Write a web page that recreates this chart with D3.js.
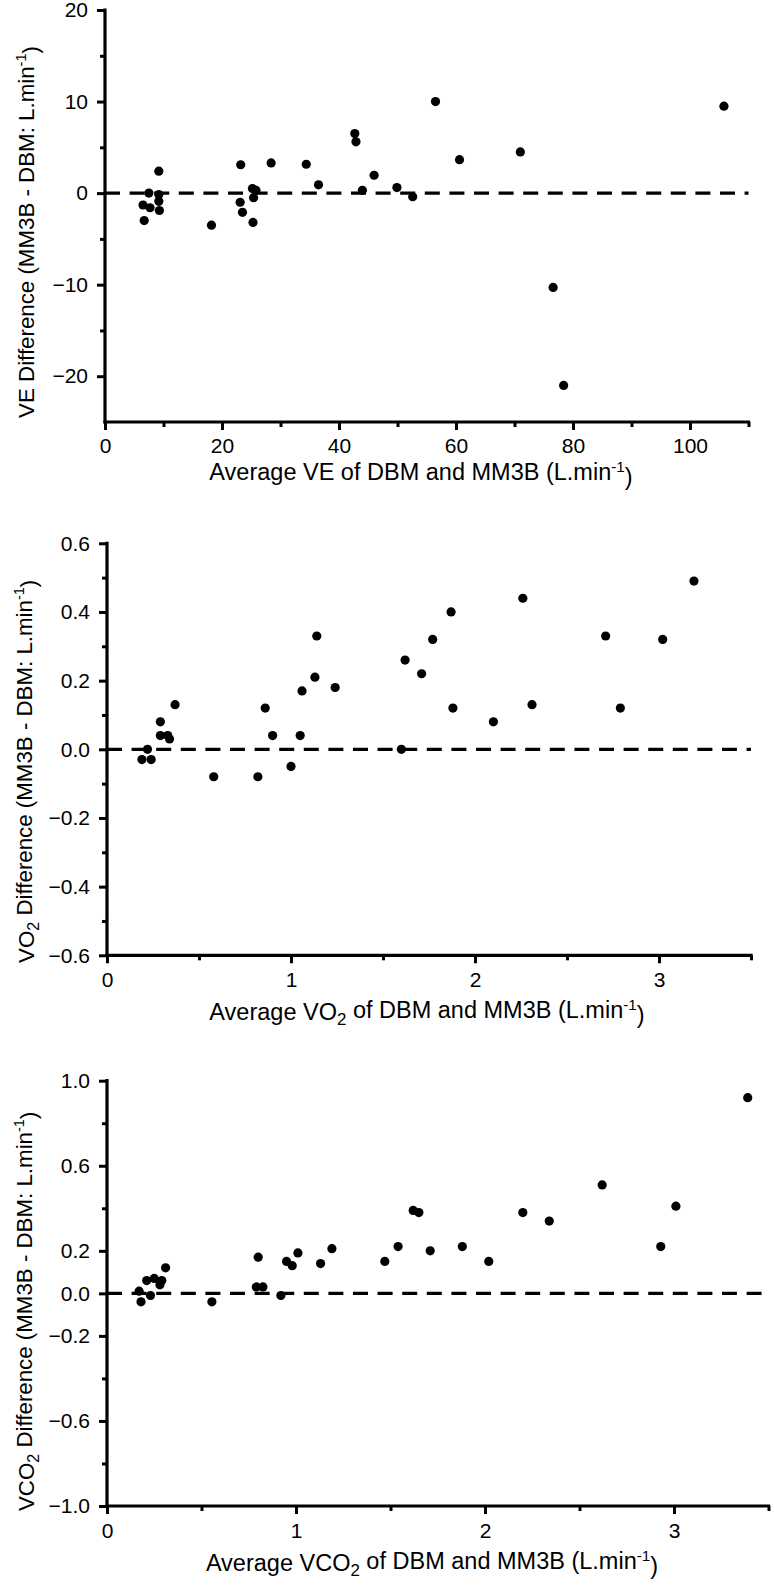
<!DOCTYPE html>
<html>
<head>
<meta charset="utf-8">
<script src="https://cdn.jsdelivr.net/npm/d3@7"></script>
<style>
  html, body { margin: 0; padding: 0; background: #fff; }
  svg { display: block; }
  text { font-family: "Liberation Sans", Arial, Helvetica, sans-serif; fill: #000; }
</style>
</head>
<body>
<svg id="chart" width="774" height="1586"></svg>
<script>
// ---------- DATA ----------
// Panel 1: VE
const veAvg  = [6.7, 6.5, 7.7, 7.5, 9.2, 9.2, 9.2, 9.3, 18.2, 23.2, 23.1, 23.5, 25.2, 25.8, 25.4, 25.3, 28.4, 34.4, 36.5, 42.7, 42.9, 44.0, 46.0, 49.9, 52.6, 56.5, 60.6, 71.0, 76.6, 78.4, 105.8];
const veDiff = [-3.0, -1.3, -1.6, 0.0, 2.4, -0.15, -0.9, -1.9, -3.5, 3.1, -1.0, -2.1, 0.5, 0.3, -0.5, -3.2, 3.3, 3.15, 0.9, 6.5, 5.6, 0.3, 1.95, 0.6, -0.4, 10.0, 3.65, 4.5, -10.3, -21.0, 9.5];
const veYMajor = [20, 10, 0, -10, -20];
const veYMinor = [15, 5, -5, -15];
const veXMajor = [0, 20, 40, 60, 80, 100];
const veXMinor = [10, 30, 50, 70, 90, 110];

// Panel 2: VO2
const vo2Avg  = [0.19, 0.24, 0.22, 0.29, 0.29, 0.33, 0.34, 0.37, 0.58, 0.82, 0.86, 0.90, 1.00, 1.05, 1.06, 1.13, 1.14, 1.24, 1.60, 1.62, 1.71, 1.77, 1.87, 1.88, 2.10, 2.26, 2.31, 2.71, 2.79, 3.02, 3.19];
const vo2Diff = [-0.03, -0.03, 0.0, 0.08, 0.04, 0.04, 0.03, 0.13, -0.08, -0.08, 0.12, 0.04, -0.05, 0.04, 0.17, 0.21, 0.33, 0.18, 0.0, 0.26, 0.22, 0.32, 0.40, 0.12, 0.08, 0.44, 0.13, 0.33, 0.12, 0.32, 0.49];
const vo2YMajor = [0.6, 0.4, 0.2, 0.0, -0.2, -0.4, -0.6];
const vo2YMinor = [0.5, 0.3, 0.1, -0.1, -0.3, -0.5];
const vo2XMajor = [0, 1, 2, 3];
const vo2XMinor = [0.5, 1.5, 2.5, 3.5];

// Panel 3: VCO2
const vco2Avg  = [0.17, 0.18, 0.21, 0.23, 0.25, 0.29, 0.28, 0.31, 0.555, 0.80, 0.79, 0.825, 0.92, 0.95, 0.98, 1.01, 1.13, 1.19, 1.47, 1.54, 1.62, 1.65, 1.71, 1.88, 2.02, 2.20, 2.34, 2.62, 2.93, 3.01, 3.39];
const vco2Diff = [0.01, -0.04, 0.06, -0.01, 0.07, 0.06, 0.04, 0.12, -0.04, 0.17, 0.03, 0.03, -0.01, 0.15, 0.13, 0.19, 0.14, 0.21, 0.15, 0.22, 0.39, 0.38, 0.20, 0.22, 0.15, 0.38, 0.34, 0.51, 0.22, 0.41, 0.92];
const vco2YMajor = [1.0, 0.6, 0.2, 0.0, -0.2, -0.6, -1.0];
const vco2YMinor = [0.8, 0.4, -0.4, -0.8];
const vco2XMajor = [0, 1, 2, 3];
const vco2XMinor = [0.5, 1.5, 2.5, 3.5];

// ---------- DRAWING ----------
const svg = d3.select("#chart");
const minus = s => s.replace("-", "\u2212");
const FONT = "Liberation Sans, Arial, sans-serif";

function panel(cfg) {
  const g = svg.append("g");
  const x = d3.scaleLinear().domain(cfg.xDomain).range([cfg.left, cfg.right]);
  const y = d3.scaleLinear().domain(cfg.yDomain).range([cfg.bottom, cfg.top]);

  // minor y ticks
  g.append("g").attr("transform", `translate(${cfg.left},0)`)
    .call(d3.axisLeft(y).tickValues(cfg.yMinor).tickSize(5).tickSizeOuter(0).tickFormat(""))
    .call(a => a.select(".domain").remove())
    .call(a => a.selectAll("line").attr("stroke", "#000").attr("stroke-width", 3));
  // major y ticks
  g.append("g").attr("transform", `translate(${cfg.left},0)`)
    .call(d3.axisLeft(y).tickValues(cfg.yMajor).tickSize(8).tickSizeOuter(0).tickPadding(9)
      .tickFormat(d => minus(d3.format(cfg.yFmt)(d))))
    .call(a => a.select(".domain").remove())
    .call(a => a.selectAll("line").attr("stroke", "#000").attr("stroke-width", 3))
    .call(a => a.selectAll("text").attr("font-size", 21).attr("font-family", FONT).attr("fill", "#000"));
  // minor x ticks
  g.append("g").attr("transform", `translate(0,${cfg.bottom})`)
    .call(d3.axisBottom(x).tickValues(cfg.xMinor).tickSize(5).tickSizeOuter(0).tickFormat(""))
    .call(a => a.select(".domain").remove())
    .call(a => a.selectAll("line").attr("stroke", "#000").attr("stroke-width", 3));
  // major x ticks
  g.append("g").attr("transform", `translate(0,${cfg.bottom})`)
    .call(d3.axisBottom(x).tickValues(cfg.xMajor).tickSize(8).tickSizeOuter(0).tickPadding(cfg.xPad)
      .tickFormat(d3.format("d")))
    .call(a => a.select(".domain").remove())
    .call(a => a.selectAll("line").attr("stroke", "#000").attr("stroke-width", 3))
    .call(a => a.selectAll("text").attr("font-size", 21).attr("font-family", FONT).attr("fill", "#000"));

  // axis lines
  g.append("line").attr("x1", cfg.left).attr("x2", cfg.left)
    .attr("y1", y(cfg.yDomain[1])).attr("y2", y(cfg.yDomain[0]))
    .attr("stroke", "#000").attr("stroke-width", 3.2).attr("stroke-linecap", "square");
  g.append("line").attr("x1", x(cfg.xDomain[0])).attr("x2", x(cfg.xDomain[1]))
    .attr("y1", cfg.bottom).attr("y2", cfg.bottom)
    .attr("stroke", "#000").attr("stroke-width", 3.2).attr("stroke-linecap", "square");

  // zero dashed line
  g.append("line").attr("x1", x(cfg.xDomain[0])).attr("x2", x(cfg.xDomain[1]))
    .attr("y1", y(0)).attr("y2", y(0))
    .attr("stroke", "#000").attr("stroke-width", 3.2).attr("stroke-dasharray", "15,9.6");

  // points
  g.append("g").selectAll("circle")
    .data(cfg.xs.map((v, i) => [v, cfg.ys[i]]))
    .join("circle")
    .attr("cx", d => x(d[0])).attr("cy", d => y(d[1]))
    .attr("r", 4.6).attr("fill", "#000");

  // y title
  const cy = (cfg.top + cfg.bottom) / 2 + cfg.yTitleShift;
  const yt = g.append("text")
    .attr("transform", `translate(34,${cy}) rotate(-90)`)
    .attr("text-anchor", "middle").attr("font-size", 22.3);
  cfg.yTitle(yt);

  // x title
  const xt = g.append("text")
    .attr("x", cfg.xTitleX)
    .attr("y", cfg.bottom + cfg.xTitleOff)
    .attr("text-anchor", "middle").attr("font-size", 23.5);
  cfg.xTitle(xt);
}

function sup(t) {
  t.append("tspan").text("L.min");
  t.append("tspan").attr("font-size", "0.65em").attr("dy", "-0.55em").text("-1");
  t.append("tspan").attr("dy", "0.55em").text(")");
}
function sub2(t, before, after) {
  t.append("tspan").text(before);
  t.append("tspan").attr("font-size", "0.72em").attr("dy", "0.3em").text("2");
  t.append("tspan").attr("dy", "-0.3em").text(after);
}

panel({
  left: 105, right: 748.5, top: 10, bottom: 422,
  xDomain: [0, 110], yDomain: [-25, 20],
  xs: veAvg, ys: veDiff,
  yMajor: veYMajor, yMinor: veYMinor, xMajor: veXMajor, xMinor: veXMinor,
  yFmt: "d", xPad: 8, xTitleOff: 58, xTitleX: 421, yTitleShift: 16,
  yTitle: t => { t.append("tspan").text("VE Difference (MM3B - DBM: "); sup(t); },
  xTitle: t => { t.append("tspan").text("Average VE of DBM and MM3B ("); sup(t); }
});

panel({
  left: 107, right: 751, top: 543.3, bottom: 955.3,
  xDomain: [0, 3.5], yDomain: [-0.6, 0.6],
  xs: vo2Avg, ys: vo2Diff,
  yMajor: vo2YMajor, yMinor: vo2YMinor, xMajor: vo2XMajor, xMinor: vo2XMinor,
  yFmt: ".1f", xPad: 9, xTitleOff: 65, xTitleX: 427, yTitleShift: 22,
  yTitle: t => { sub2(t, "VO", " Difference (MM3B - DBM: "); sup(t); },
  xTitle: t => { sub2(t, "Average VO", " of DBM and MM3B ("); sup(t); }
});

panel({
  left: 107, right: 768.5, top: 1080.7, bottom: 1506,
  xDomain: [0, 3.5], yDomain: [-1, 1],
  xs: vco2Avg, ys: vco2Diff,
  yMajor: vco2YMajor, yMinor: vco2YMinor, xMajor: vco2XMajor, xMinor: vco2XMinor,
  yFmt: ".1f", xPad: 9, xTitleOff: 65, xTitleX: 432, yTitleShift: 18,
  yTitle: t => { sub2(t, "VCO", " Difference (MM3B - DBM: "); sup(t); },
  xTitle: t => { sub2(t, "Average VCO", " of DBM and MM3B ("); sup(t); }
});
</script>
</body>
</html>
